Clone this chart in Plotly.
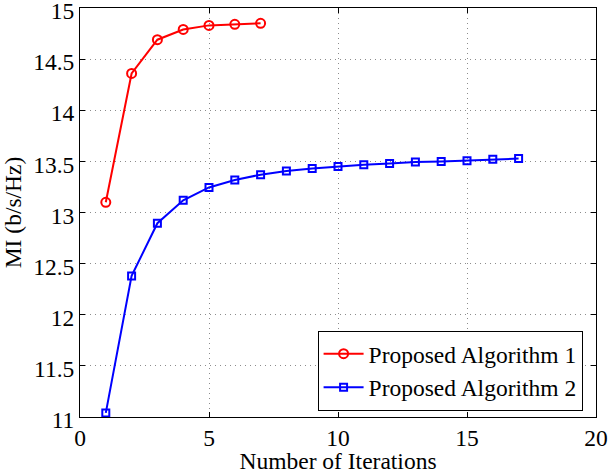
import plotly.graph_objects as go

x1 = [1, 2, 3, 4, 5, 6, 7]
alg1 = [13.10, 14.36, 14.69, 14.79, 14.83, 14.84, 14.85]
x2 = list(range(1, 18))
alg2 = [11.04, 12.38, 12.895, 13.12, 13.245, 13.317, 13.37, 13.405, 13.43, 13.45,
        13.466, 13.48, 13.495, 13.50, 13.507, 13.52, 13.527]
names = ["Proposed Algorithm 1", "Proposed Algorithm 2"]

font = "Liberation Serif, Times New Roman, serif"
fs = 23.5
fig = go.Figure()
fig.add_trace(go.Scatter(x=x1, y=alg1, name=names[0], mode="lines+markers",
                         line=dict(color="#ff0000", width=2),
                         marker=dict(symbol="circle-open", size=9, color="#ff0000", line=dict(width=2))))
fig.add_trace(go.Scatter(x=x2, y=alg2, name=names[1], mode="lines+markers",
                         line=dict(color="#0000ff", width=2),
                         marker=dict(symbol="square-open", size=7, color="#0000ff", line=dict(width=2))))

axis_common = dict(showline=True, linecolor="black", linewidth=1, mirror="ticks",
                   ticks="inside", ticklen=5, tickcolor="black", automargin=False,
                   showgrid=True, gridcolor="#8c8c8c", griddash="1px,4px", gridwidth=1,
                   zeroline=False, ticklabeloverflow="allow",
                   tickfont=dict(family=font, size=fs, color="black"))
fig.update_layout(
    width=608, height=474,
    margin=dict(l=80, r=12, t=8, b=57),
    paper_bgcolor="white", plot_bgcolor="white",
    font=dict(family=font, size=fs, color="black"),
    xaxis=dict(range=[0, 20], tickvals=[0, 5, 10, 15, 20],
               title=dict(text="Number of Iterations", standoff=0, font=dict(size=fs)), **axis_common),
    yaxis=dict(range=[11, 15], tickvals=[11, 11.5, 12, 12.5, 13, 13.5, 14, 14.5, 15],
               ticktext=["11", "11.5", "12", "12.5", "13", "13.5", "14", "14.5", "15"],
               ticklabelshift=3,
               title=dict(text="MI (b/s/Hz)", standoff=6, font=dict(size=fs)), **axis_common),
    legend=dict(x=0.974, y=0.015, xanchor="right", yanchor="bottom",
                bgcolor="white", bordercolor="black", borderwidth=1,
                font=dict(family=font, size=fs), tracegroupgap=0, itemwidth=40),
    showlegend=True,
)
fig.write_html("out.html")
